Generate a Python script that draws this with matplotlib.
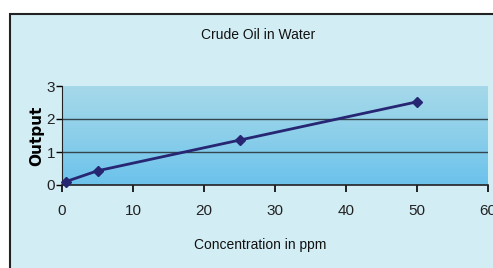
import numpy as np
import matplotlib.pyplot as plt
from matplotlib.patches import Rectangle
from matplotlib.colors import LinearSegmentedColormap

# data
concentration = [0.5, 5, 25, 50]
output = [0.1, 0.43, 1.36, 2.52]
x_ticks = [0, 10, 20, 30, 40, 50, 60]
y_ticks = [0, 1, 2, 3]

narrow = ['Liberation Sans Narrow', 'Liberation Sans', 'DejaVu Sans']

fig = plt.figure(figsize=(4.93, 2.68), dpi=100)

# outer chart frame
frame = Rectangle((10 / 493, -0.01), 1, 1.01 - 14 / 268, transform=fig.transFigure,
                  facecolor='#d3edf5', edgecolor='#222222', linewidth=1.5, zorder=-5)
fig.patches.append(frame)

ax = fig.add_axes([62 / 493, 1 - 185 / 268, 426 / 493, 99 / 268])
ax.set_zorder(2)
ax.patch.set_alpha(0)
ax.set_xlim(0, 60)
ax.set_ylim(0, 3)

# plot area gradient
cmap = LinearSegmentedColormap.from_list('bg', ['#6bc2ec', '#8ccfea', '#a6d9e9'])
grad = np.linspace(0, 1, 256).reshape(-1, 1)
ax.imshow(grad, extent=[0, 60, 0, 3], origin='lower', aspect='auto', cmap=cmap, zorder=0)

for y in [1, 2]:
    ax.axhline(y, color='#33444f', linewidth=1.0, zorder=1)

ax.plot(concentration, output, color='#262673', linewidth=2, marker='D',
        markersize=5, zorder=3, clip_on=False)

for side in ['top', 'right']:
    ax.spines[side].set_visible(False)
ax.spines['left'].set_color('#222222')
ax.spines['bottom'].set_color('#222222')
ax.spines['bottom'].set_linewidth(1.2)

ax.set_xticks(x_ticks)
ax.set_yticks(y_ticks)
ax.tick_params(axis='x', direction='out', length=5, width=1.2, pad=9, labelsize=11)
ax.tick_params(axis='y', direction='out', length=4, width=1, pad=1, labelsize=11)
for lab in ax.get_xticklabels() + ax.get_yticklabels():
    lab.set_family(narrow)
    lab.set_color('#222222')

ax.set_ylabel('Output', fontsize=11, fontweight='bold', family='DejaVu Sans', labelpad=2)
fig.text(260 / 493, 1 - 245 / 268, 'Concentration in ppm', ha='center', va='center',
         fontsize=10, family=narrow, color='#111111')
fig.text(258 / 493, 1 - 35 / 268, 'Crude Oil in Water', ha='center', va='center',
         fontsize=10, family=narrow, color='#111111')

fig.savefig('out.png', dpi=100)
